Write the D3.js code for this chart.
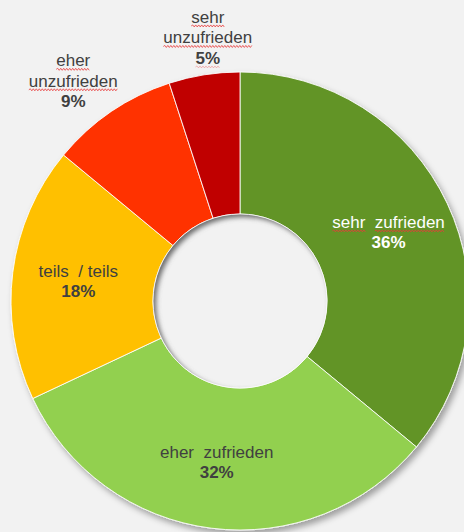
<!DOCTYPE html>
<html>
<head>
<meta charset="utf-8">
<script src="https://cdn.jsdelivr.net/npm/d3@7/dist/d3.min.js"></script>
<style>
  html, body { margin: 0; padding: 0; background: #f2f2f2; }
  svg { display: block; }
  text { font-family: "Liberation Sans", Arial, sans-serif; white-space: pre; }
</style>
</head>
<body>
<svg id="chart" width="464" height="532"></svg>
<script>
// Zufriedenheit – Anteile in Prozent
const categories = ["sehr  zufrieden", "eher  zufrieden", "teils  / teils", "eher\nunzufrieden", "sehr\nunzufrieden"];
const values = [36, 32, 18, 9, 5];
const colors = ["#629428", "#92d050", "#ffc000", "#ff3300", "#c00000"];
const labelColors = ["#ffffff", "#404040", "#404040", "#404040", "#404040"];
// words marked with a wavy underline (spell-check style)
const underlined = ["sehr", "zufrieden", "unzufrieden", "eher", "5%"];

const W = 464, H = 532;
const cx = 240, cy = 301;
const outerR = 229, innerR = 87;

const svg = d3.select("#chart");
svg.append("rect").attr("width", W).attr("height", H).attr("fill", "#f2f2f2");

const defs = svg.append("defs");
const drop = defs.append("filter").attr("id", "drop")
  .attr("x", "-20%").attr("y", "-20%").attr("width", "140%").attr("height", "140%");
drop.append("feDropShadow").attr("dx", 3).attr("dy", 4).attr("stdDeviation", 3)
  .attr("flood-color", "#000").attr("flood-opacity", 0.35);
const blur = defs.append("filter").attr("id", "blur")
  .attr("x", "-20%").attr("y", "-20%").attr("width", "140%").attr("height", "140%");
blur.append("feGaussianBlur").attr("stdDeviation", 2.5);
defs.append("clipPath").attr("id", "holeClip")
  .append("circle").attr("cx", cx).attr("cy", cy).attr("r", innerR);

const pie = d3.pie().sort(null).value(d => d);
const arcs = pie(values);
const arc = d3.arc().innerRadius(innerR).outerRadius(outerR);

const g = svg.append("g").attr("transform", `translate(${cx},${cy})`);
const ring = g.append("g").attr("filter", "url(#drop)");
ring.selectAll("path.slice").data(arcs).join("path")
  .attr("class", "slice")
  .attr("d", arc)
  .attr("fill", (d, i) => colors[i])
  .attr("stroke", "#ffffff")
  .attr("stroke-opacity", 0.85)
  .attr("stroke-width", 1);

// inner shadow inside the hole
const hole = svg.append("g").attr("clip-path", "url(#holeClip)");
hole.append("circle").attr("cx", cx).attr("cy", cy).attr("r", innerR).attr("fill", "#f2f2f2");
hole.append("circle").attr("cx", cx + 3).attr("cy", cy + 3).attr("r", innerR + 20)
  .attr("fill", "none").attr("stroke", "#6a6a6a").attr("stroke-width", 40)
  .attr("filter", "url(#blur)");
svg.append("circle").attr("cx", cx).attr("cy", cy).attr("r", innerR)
  .attr("fill", "none").attr("stroke", "#ffffff").attr("stroke-opacity", 0.8).attr("stroke-width", 1);

// label placement: inside the ring for large slices, above the ring for small ones
const inside = d => d.value > 12;
const labelArcIn = d3.arc().innerRadius(162).outerRadius(162);
const labelArcOut = d3.arc().innerRadius(270).outerRadius(270);
const nudge = [[2, 0], [-3, 0], [-1, 0], [-15, 3], [10, 3]];
const fontSize = 17, lineH = 20.5;

arcs.forEach((d, i) => {
  const c = (inside(d) ? labelArcIn : labelArcOut).centroid(d);
  const x = cx + c[0] + nudge[i][0];
  const y = cy + c[1] + nudge[i][1];
  const lines = categories[i].split("\n").map(s => ({ t: s, bold: false }));
  lines.push({ t: values[i] + "%", bold: true });
  const y0 = y - (lines.length - 1) * lineH / 2;
  lines.forEach((ln, k) => {
    const baseY = y0 + k * lineH + fontSize * 0.36;
    const t = svg.append("text")
      .attr("x", x).attr("y", baseY)
      .attr("text-anchor", "middle")
      .attr("font-size", fontSize)
      .attr("font-weight", ln.bold ? "bold" : "normal")
      .attr("fill", labelColors[i])
      .text(ln.t);
    // wavy underlines under flagged words (not on the light-green / yellow slices)
    if (i === 1 || i === 2) return;
    const node = t.node();
    underlined.forEach(w => {
      const re = new RegExp("(^|\\s)" + w.replace("%", "\\%") + "(?=\\s|$)");
      const m = ln.t.match(re);
      if (!m) return;
      const start = m.index + m[1].length;
      const x1 = node.getStartPositionOfChar(start).x;
      const x2 = node.getEndPositionOfChar(start + w.length - 1).x;
      const yy = baseY + 3;
      let dStr = `M${x1},${yy}`;
      let up = true;
      for (let xx = x1 + 1.5; xx <= x2; xx += 1.5) {
        dStr += `L${xx},${yy + (up ? -1 : 1)}`;
        up = !up;
      }
      svg.append("path").attr("d", dStr).attr("fill", "none")
        .attr("stroke", "#e83a3a").attr("stroke-width", 0.9)
        .attr("stroke-opacity", w === "5%" ? 0.35 : 0.9);
    });
  });
});
</script>
</body>
</html>
